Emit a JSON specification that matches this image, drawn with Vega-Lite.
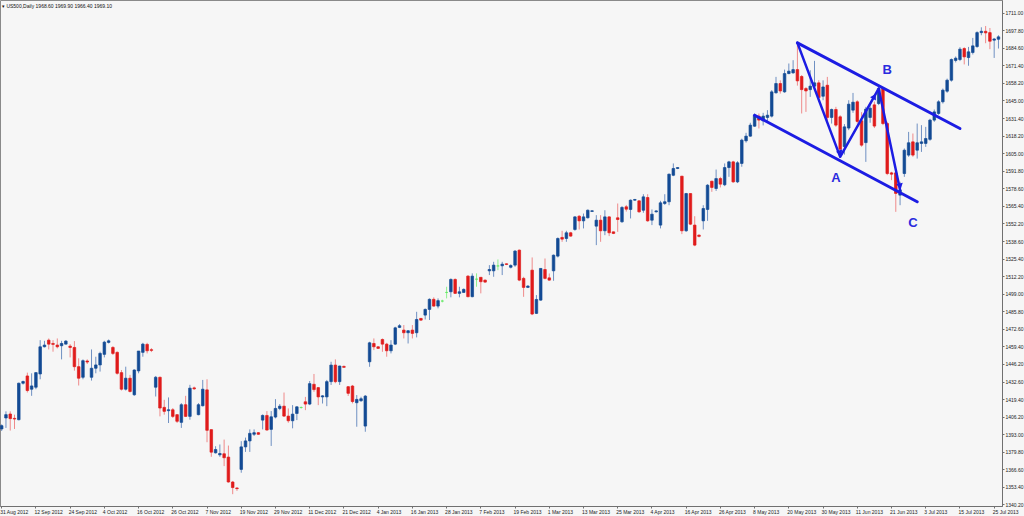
{
"$schema": "https://vega.github.io/schema/vega-lite/v6.json",
"width": 1002, "height": 506,
"autosize": "none",
"padding": {"left": 0, "top": 0, "right": 22, "bottom": 10},
"background": "#f6f6f6",
"title": {"text": "▾ US500,Daily  1968.60 1969.90 1966.40 1969.10", "anchor": "start", "frame": "group", "offset": -9, "dx": 2, "fontSize": 5, "fontWeight": "normal", "font": "Liberation Sans", "color": "#111111"},
"config": {
  "view": {"stroke": "#8a8a8a", "fill": "#f6f6f6"},
  "font": "Liberation Sans",
  "axis": {"labelFont": "Liberation Sans", "labelFontSize": 5, "domainColor": "#707070", "tickColor": "#707070", "labelColor": "#222222", "grid": false, "labelOverlap": false},
  "axisY": {"labelOverlap": false, "labelFlush": false, "labelBound": false, "tickCount": 40}
},
"datasets": {
"k": [
{"d":"2012-08-31","o":1397,"h":1400.5,"l":1395.5,"c":1399.5},
{"d":"2012-09-03","o":1405.3,"h":1410.3,"l":1397.8,"c":1407.8},
{"d":"2012-09-04","o":1408.3,"h":1410.3,"l":1395.8,"c":1404.8},
{"d":"2012-09-05","o":1405,"h":1407.8,"l":1397,"c":1404.5},
{"d":"2012-09-06","o":1404,"h":1432,"l":1403.5,"c":1431.5},
{"d":"2012-09-07","o":1431.5,"h":1433.5,"l":1430.5,"c":1432.8},
{"d":"2012-09-10","o":1437,"h":1439.5,"l":1424.5,"c":1426},
{"d":"2012-09-11","o":1427,"h":1439,"l":1422,"c":1429.5},
{"d":"2012-09-12","o":1428.5,"h":1440,"l":1427,"c":1439.5},
{"d":"2012-09-13","o":1438.5,"h":1464,"l":1434.5,"c":1459},
{"d":"2012-09-14","o":1459,"h":1463.5,"l":1458.5,"c":1460.3},
{"d":"2012-09-17","o":1464,"h":1465.3,"l":1457,"c":1461},
{"d":"2012-09-18","o":1461.5,"h":1464,"l":1455.3,"c":1460.8},
{"d":"2012-09-19","o":1460.3,"h":1465.3,"l":1457.8,"c":1459},
{"d":"2012-09-20","o":1459.8,"h":1463.5,"l":1449.5,"c":1461.5},
{"d":"2012-09-21","o":1461,"h":1464,"l":1460.8,"c":1463.3},
{"d":"2012-09-24","o":1459.5,"h":1461,"l":1451,"c":1458.5},
{"d":"2012-09-25","o":1458.5,"h":1463.3,"l":1441,"c":1444},
{"d":"2012-09-26","o":1444,"h":1450.3,"l":1429.8,"c":1435.3},
{"d":"2012-09-27","o":1436,"h":1449.5,"l":1434.5,"c":1448.5},
{"d":"2012-09-28","o":1448.3,"h":1449.5,"l":1446,"c":1447.5},
{"d":"2012-10-01","o":1436,"h":1457,"l":1433.5,"c":1442.8},
{"d":"2012-10-02","o":1442.8,"h":1451.5,"l":1439,"c":1445.3},
{"d":"2012-10-03","o":1445.3,"h":1455.3,"l":1440.3,"c":1454},
{"d":"2012-10-04","o":1453.3,"h":1463.5,"l":1451,"c":1462.5},
{"d":"2012-10-05","o":1462.3,"h":1464.5,"l":1461.5,"c":1463.5},
{"d":"2012-10-08","o":1458.5,"h":1459.5,"l":1452.8,"c":1454},
{"d":"2012-10-09","o":1454.8,"h":1455.5,"l":1438,"c":1439},
{"d":"2012-10-10","o":1439.5,"h":1441.5,"l":1426,"c":1427},
{"d":"2012-10-11","o":1427,"h":1444,"l":1426,"c":1435.3},
{"d":"2012-10-12","o":1435.3,"h":1437.8,"l":1424.5,"c":1425.3},
{"d":"2012-10-15","o":1422.8,"h":1442,"l":1422,"c":1441.5},
{"d":"2012-10-16","o":1440.8,"h":1455.8,"l":1439,"c":1455.8},
{"d":"2012-10-17","o":1454.8,"h":1462,"l":1451.5,"c":1461},
{"d":"2012-10-18","o":1460.8,"h":1462,"l":1454,"c":1456},
{"d":"2012-10-19","o":1456.8,"h":1458,"l":1455,"c":1456.3},
{"d":"2012-10-22","o":1428.5,"h":1437,"l":1421.5,"c":1436},
{"d":"2012-10-23","o":1436,"h":1436.5,"l":1406.5,"c":1412.8},
{"d":"2012-10-24","o":1413.3,"h":1419,"l":1407.8,"c":1410.3},
{"d":"2012-10-25","o":1410.8,"h":1420.8,"l":1401.5,"c":1411.5},
{"d":"2012-10-26","o":1411.5,"h":1412.8,"l":1405.3,"c":1406.5},
{"d":"2012-10-29","o":1407.8,"h":1408,"l":1401.5,"c":1402.8},
{"d":"2012-10-30","o":1402,"h":1416.5,"l":1397.8,"c":1415.3},
{"d":"2012-10-31","o":1415.3,"h":1422,"l":1406,"c":1406.5},
{"d":"2012-11-01","o":1406.5,"h":1430.3,"l":1404,"c":1427.8},
{"d":"2012-11-02","o":1428,"h":1429,"l":1426.5,"c":1427.3},
{"d":"2012-11-05","o":1407.8,"h":1416.5,"l":1407.3,"c":1415.3},
{"d":"2012-11-06","o":1414.5,"h":1434,"l":1414,"c":1427},
{"d":"2012-11-07","o":1426.5,"h":1434.5,"l":1387,"c":1396},
{"d":"2012-11-08","o":1396.5,"h":1396.8,"l":1376,"c":1379.5},
{"d":"2012-11-09","o":1379,"h":1384,"l":1378.5,"c":1381.5},
{"d":"2012-11-12","o":1377.5,"h":1385.3,"l":1376,"c":1378.5},
{"d":"2012-11-13","o":1378.3,"h":1389,"l":1369,"c":1375.3},
{"d":"2012-11-14","o":1375.8,"h":1384.5,"l":1356.5,"c":1357},
{"d":"2012-11-15","o":1357,"h":1357.8,"l":1347.8,"c":1352.8},
{"d":"2012-11-16","o":1352.5,"h":1353,"l":1350.3,"c":1352},
{"d":"2012-11-19","o":1366.5,"h":1387.8,"l":1364,"c":1383.5},
{"d":"2012-11-20","o":1383.5,"h":1390.5,"l":1379.7,"c":1388},
{"d":"2012-11-21","o":1388,"h":1396.7,"l":1379.7,"c":1393.7},
{"d":"2012-11-22","o":1393,"h":1396.7,"l":1391.7,"c":1394.2},
{"d":"2012-11-23","o":1394.2,"h":1394.7,"l":1392.5,"c":1393},
{"d":"2012-11-26","o":1403.7,"h":1408,"l":1396.7,"c":1407.2},
{"d":"2012-11-27","o":1407.2,"h":1410.5,"l":1395.8,"c":1396.2},
{"d":"2012-11-28","o":1396.7,"h":1410.5,"l":1384.2,"c":1406.2},
{"d":"2012-11-29","o":1406,"h":1419.5,"l":1405,"c":1412.5},
{"d":"2012-11-30","o":1412.5,"h":1415.8,"l":1411.2,"c":1414.2},
{"d":"2012-12-03","o":1414.2,"h":1424.5,"l":1406.2,"c":1406.7},
{"d":"2012-12-04","o":1406.7,"h":1412.5,"l":1401.7,"c":1403.2},
{"d":"2012-12-05","o":1403.2,"h":1415,"l":1397.5,"c":1408.2},
{"d":"2012-12-06","o":1408.7,"h":1414.2,"l":1403.7,"c":1413.7},
{"d":"2012-12-07","o":1413.2,"h":1414,"l":1412.3,"c":1413.2},
{"d":"2012-12-10","o":1417.5,"h":1421.2,"l":1411.2,"c":1415.8},
{"d":"2012-12-11","o":1415.8,"h":1433.2,"l":1415,"c":1431.2},
{"d":"2012-12-12","o":1430.7,"h":1438.5,"l":1425,"c":1426.7},
{"d":"2012-12-13","o":1428.2,"h":1428.7,"l":1415,"c":1421.2},
{"d":"2012-12-14","o":1421.2,"h":1422.5,"l":1416.2,"c":1422},
{"d":"2012-12-17","o":1421.2,"h":1434,"l":1414.2,"c":1432.7},
{"d":"2012-12-18","o":1432.7,"h":1447.7,"l":1430.2,"c":1445.2},
{"d":"2012-12-19","o":1445.2,"h":1449.5,"l":1431.5,"c":1432.7},
{"d":"2012-12-20","o":1432.7,"h":1444.7,"l":1430.2,"c":1444.5},
{"d":"2012-12-21","o":1444.2,"h":1444.9,"l":1443.4,"c":1443.5},
{"d":"2012-12-24","o":1428.9,"h":1429.4,"l":1421.9,"c":1423.9},
{"d":"2012-12-26","o":1429.4,"h":1430.2,"l":1416.3,"c":1417.7},
{"d":"2012-12-27","o":1416.8,"h":1422.6,"l":1398.7,"c":1419.3},
{"d":"2012-12-28","o":1418.3,"h":1421.3,"l":1417.5,"c":1419.8},
{"d":"2012-12-31","o":1399.2,"h":1422.6,"l":1394.9,"c":1421.8},
{"d":"2013-01-02","o":1447.7,"h":1462.8,"l":1443.9,"c":1462},
{"d":"2013-01-03","o":1461.5,"h":1465.3,"l":1456.5,"c":1459},
{"d":"2013-01-04","o":1459,"h":1459.5,"l":1457.3,"c":1457.8},
{"d":"2013-01-07","o":1464.5,"h":1465.3,"l":1455.2,"c":1461},
{"d":"2013-01-08","o":1461,"h":1462,"l":1451.5,"c":1456},
{"d":"2013-01-09","o":1456,"h":1464,"l":1454,"c":1460.3},
{"d":"2013-01-10","o":1461,"h":1474.1,"l":1460.3,"c":1473.3},
{"d":"2013-01-11","o":1473.6,"h":1476.1,"l":1473.1,"c":1474.9},
{"d":"2013-01-14","o":1471.6,"h":1475.4,"l":1465.3,"c":1469.6},
{"d":"2013-01-15","o":1469.6,"h":1471.6,"l":1461.5,"c":1471.1},
{"d":"2013-01-16","o":1471.6,"h":1475.4,"l":1465.3,"c":1469.1},
{"d":"2013-01-17","o":1469.6,"h":1485.4,"l":1466.1,"c":1479.6},
{"d":"2013-01-18","o":1480.4,"h":1480.6,"l":1478.6,"c":1479.1},
{"d":"2013-01-21","o":1482.9,"h":1487.9,"l":1479.6,"c":1487.2},
{"d":"2013-01-22","o":1487.2,"h":1495.5,"l":1479.2,"c":1494.8},
{"d":"2013-01-23","o":1494.8,"h":1496.3,"l":1489.2,"c":1489.7},
{"d":"2013-01-24","o":1489.7,"h":1495.5,"l":1488,"c":1493.8},
{"d":"2013-01-25","o":1493.5,"h":1494.5,"l":1492.5,"c":1493.5},
{"d":"2013-01-28","o":1500,"h":1504.3,"l":1495.5,"c":1500},
{"d":"2013-01-29","o":1500.5,"h":1510.6,"l":1496.3,"c":1509.8},
{"d":"2013-01-30","o":1509.8,"h":1510.6,"l":1498.8,"c":1499.3},
{"d":"2013-01-31","o":1499.3,"h":1504.3,"l":1496.3,"c":1500.5},
{"d":"2013-02-01","o":1500,"h":1503,"l":1499.8,"c":1502.3},
{"d":"2013-02-04","o":1512.3,"h":1513.1,"l":1496.3,"c":1496.8},
{"d":"2013-02-05","o":1496.8,"h":1514.4,"l":1496.3,"c":1512.3},
{"d":"2013-02-06","o":1510,"h":1514.4,"l":1504.3,"c":1510},
{"d":"2013-02-07","o":1511.4,"h":1511.6,"l":1499.3,"c":1508.1},
{"d":"2013-02-08","o":1509.3,"h":1509.8,"l":1507.3,"c":1507.8},
{"d":"2013-02-11","o":1516.3,"h":1520.6,"l":1513.1,"c":1517.3},
{"d":"2013-02-12","o":1516.3,"h":1523.1,"l":1511.8,"c":1520.6},
{"d":"2013-02-13","o":1520,"h":1524.9,"l":1516.8,"c":1520},
{"d":"2013-02-14","o":1520.1,"h":1523.1,"l":1513.1,"c":1521.3},
{"d":"2013-02-15","o":1521.6,"h":1521.9,"l":1520.6,"c":1521.1},
{"d":"2013-02-18","o":1519,"h":1521.3,"l":1518.1,"c":1520.3},
{"d":"2013-02-19","o":1520.6,"h":1531.9,"l":1519.3,"c":1531.2},
{"d":"2013-02-20","o":1531.9,"h":1532.4,"l":1508.5,"c":1509.3},
{"d":"2013-02-21","o":1510.6,"h":1511.8,"l":1496.7,"c":1503.8},
{"d":"2013-02-22","o":1503.8,"h":1505.5,"l":1503.3,"c":1504.8},
{"d":"2013-02-25","o":1516.8,"h":1526.4,"l":1482.9,"c":1483.7},
{"d":"2013-02-26","o":1484.2,"h":1498,"l":1483.7,"c":1494.7},
{"d":"2013-02-27","o":1494.2,"h":1518.3,"l":1493.7,"c":1518.1},
{"d":"2013-02-28","o":1517.3,"h":1525.6,"l":1509.8,"c":1510.6},
{"d":"2013-03-01","o":1511,"h":1514.3,"l":1508.8,"c":1509.3},
{"d":"2013-03-04","o":1516.3,"h":1528.6,"l":1508.8,"c":1528.1},
{"d":"2013-03-05","o":1527.4,"h":1541.5,"l":1526.4,"c":1540.7},
{"d":"2013-03-06","o":1541.5,"h":1546.5,"l":1538.2,"c":1540.2},
{"d":"2013-03-07","o":1540.7,"h":1546.5,"l":1538.2,"c":1545},
{"d":"2013-03-08","o":1545,"h":1545.7,"l":1542,"c":1542.5},
{"d":"2013-03-11","o":1547.5,"h":1557.5,"l":1546.5,"c":1557},
{"d":"2013-03-12","o":1557.5,"h":1558.3,"l":1547.5,"c":1554},
{"d":"2013-03-13","o":1554,"h":1559.5,"l":1548.3,"c":1557},
{"d":"2013-03-14","o":1556.3,"h":1562.6,"l":1555.8,"c":1562},
{"d":"2013-03-15","o":1561.1,"h":1562,"l":1560.8,"c":1561.6},
{"d":"2013-03-18","o":1550,"h":1558.3,"l":1535.7,"c":1554.5},
{"d":"2013-03-19","o":1554.5,"h":1558.3,"l":1538.2,"c":1546.5},
{"d":"2013-03-20","o":1546.5,"h":1562,"l":1543.2,"c":1557},
{"d":"2013-03-21","o":1557,"h":1557.5,"l":1542.5,"c":1545},
{"d":"2013-03-22","o":1545.7,"h":1546,"l":1544,"c":1544.5},
{"d":"2013-03-25","o":1556.3,"h":1567.1,"l":1545.7,"c":1555},
{"d":"2013-03-26","o":1553.3,"h":1565.1,"l":1552.5,"c":1564.1},
{"d":"2013-03-27","o":1564.6,"h":1566,"l":1561,"c":1562.8},
{"d":"2013-03-28","o":1562.6,"h":1570.1,"l":1555.8,"c":1569.6},
{"d":"2013-03-29","o":1569.6,"h":1570.6,"l":1569.1,"c":1570.1},
{"d":"2013-04-01","o":1569.1,"h":1569.6,"l":1560.1,"c":1560.8},
{"d":"2013-04-02","o":1562,"h":1574.1,"l":1560.1,"c":1572.1},
{"d":"2013-04-03","o":1571.6,"h":1574.1,"l":1553.3,"c":1554},
{"d":"2013-04-04","o":1554.5,"h":1562.6,"l":1550.8,"c":1559},
{"d":"2013-04-05","o":1560.8,"h":1562,"l":1560.3,"c":1561.5},
{"d":"2013-04-08","o":1550.8,"h":1569.1,"l":1548.3,"c":1567.6},
{"d":"2013-04-09","o":1567.1,"h":1574.1,"l":1566,"c":1568.4},
{"d":"2013-04-10","o":1568.4,"h":1589.7,"l":1565.8,"c":1589.2},
{"d":"2013-04-11","o":1588.4,"h":1597.3,"l":1587.7,"c":1593.5},
{"d":"2013-04-12","o":1593.5,"h":1594.5,"l":1593,"c":1594.2},
{"d":"2013-04-15","o":1587.7,"h":1587.9,"l":1544,"c":1546.5},
{"d":"2013-04-16","o":1546.5,"h":1575.1,"l":1545.7,"c":1574.6},
{"d":"2013-04-17","o":1574.6,"h":1574.8,"l":1550.8,"c":1551.5},
{"d":"2013-04-18","o":1550.8,"h":1557.5,"l":1534.9,"c":1535.7},
{"d":"2013-04-19","o":1543.2,"h":1543.8,"l":1541.5,"c":1542.3},
{"d":"2013-04-22","o":1554,"h":1565.8,"l":1547.5,"c":1563.3},
{"d":"2013-04-23","o":1562.6,"h":1581.7,"l":1554,"c":1580.9},
{"d":"2013-04-24","o":1583.9,"h":1584.2,"l":1575.9,"c":1579.2},
{"d":"2013-04-25","o":1578.4,"h":1592.7,"l":1576.6,"c":1585.9},
{"d":"2013-04-26","o":1585.9,"h":1587.2,"l":1579.2,"c":1581.7},
{"d":"2013-04-29","o":1581.2,"h":1597.3,"l":1580.2,"c":1594.2},
{"d":"2013-04-30","o":1594.2,"h":1599.3,"l":1587.2,"c":1598.5},
{"d":"2013-05-01","o":1598.5,"h":1599.3,"l":1582.7,"c":1583.4},
{"d":"2013-05-02","o":1583.4,"h":1599,"l":1582.5,"c":1597.8},
{"d":"2013-05-03","o":1597.3,"h":1616,"l":1594.8,"c":1614.9},
{"d":"2013-05-06","o":1614.4,"h":1620.4,"l":1613,"c":1617.9},
{"d":"2013-05-07","o":1617.9,"h":1628,"l":1617.4,"c":1626.2},
{"d":"2013-05-08","o":1625.4,"h":1635,"l":1624.9,"c":1633.7},
{"d":"2013-05-09","o":1633,"h":1635,"l":1623.7,"c":1630},
{"d":"2013-05-10","o":1629.5,"h":1635.5,"l":1626,"c":1633},
{"d":"2013-05-13","o":1632,"h":1637.5,"l":1628,"c":1633.7},
{"d":"2013-05-14","o":1633,"h":1652.6,"l":1632,"c":1651.3},
{"d":"2013-05-15","o":1650.6,"h":1662.6,"l":1650,"c":1657.6},
{"d":"2013-05-16","o":1657.6,"h":1660,"l":1650,"c":1652},
{"d":"2013-05-17","o":1651.3,"h":1668.1,"l":1650.6,"c":1665.1},
{"d":"2013-05-20","o":1665.1,"h":1672.7,"l":1664.6,"c":1666.9},
{"d":"2013-05-21","o":1665.6,"h":1675.2,"l":1665.1,"c":1668.1},
{"d":"2013-05-22","o":1668.1,"h":1686.5,"l":1656,"c":1659.6},
{"d":"2013-05-23","o":1662.9,"h":1664,"l":1635,"c":1653},
{"d":"2013-05-24","o":1653.8,"h":1655,"l":1636.2,"c":1652},
{"d":"2013-05-27","o":1653,"h":1667.6,"l":1647.5,"c":1655.6},
{"d":"2013-05-28","o":1655.6,"h":1674.7,"l":1652.6,"c":1658.1},
{"d":"2013-05-29","o":1658.1,"h":1660.1,"l":1643.8,"c":1647},
{"d":"2013-05-30","o":1648,"h":1660,"l":1645,"c":1655},
{"d":"2013-05-31","o":1656.3,"h":1662.6,"l":1629.5,"c":1632},
{"d":"2013-06-03","o":1632,"h":1638.7,"l":1627.4,"c":1638},
{"d":"2013-06-04","o":1638,"h":1640,"l":1624.9,"c":1626.2},
{"d":"2013-06-05","o":1632.5,"h":1633.7,"l":1602.3,"c":1608},
{"d":"2013-06-06","o":1610,"h":1627,"l":1604,"c":1624.9},
{"d":"2013-06-07","o":1624,"h":1645,"l":1622.4,"c":1642},
{"d":"2013-06-10","o":1637.5,"h":1650.5,"l":1635.5,"c":1643.5},
{"d":"2013-06-11","o":1643.8,"h":1645,"l":1627.4,"c":1629},
{"d":"2013-06-12","o":1629.5,"h":1636,"l":1609.9,"c":1611.1},
{"d":"2013-06-13","o":1613,"h":1640,"l":1598.5,"c":1638.3},
{"d":"2013-06-14","o":1632,"h":1642,"l":1628,"c":1639},
{"d":"2013-06-17","o":1641.5,"h":1644,"l":1624,"c":1625.5},
{"d":"2013-06-18","o":1642.5,"h":1655,"l":1641.3,"c":1653.8},
{"d":"2013-06-19","o":1653.8,"h":1655,"l":1626.2,"c":1627.4},
{"d":"2013-06-20","o":1627.4,"h":1628.7,"l":1588.5,"c":1589.7},
{"d":"2013-06-21","o":1590.2,"h":1591,"l":1584.7,"c":1589.2},
{"d":"2013-06-24","o":1590.2,"h":1592.2,"l":1560.8,"c":1574.7},
{"d":"2013-06-25","o":1573.4,"h":1583.5,"l":1565.8,"c":1577.2},
{"d":"2013-06-26","o":1589.7,"h":1608.6,"l":1587.2,"c":1607.3},
{"d":"2013-06-27","o":1603.6,"h":1621.1,"l":1602.3,"c":1612.9},
{"d":"2013-06-28","o":1613.6,"h":1619.9,"l":1602.3,"c":1603.6},
{"d":"2013-07-01","o":1607.3,"h":1627.4,"l":1601,"c":1612.9},
{"d":"2013-07-02","o":1612.4,"h":1626.2,"l":1606,"c":1613.6},
{"d":"2013-07-03","o":1612.4,"h":1624.9,"l":1609.8,"c":1616.1},
{"d":"2013-07-04","o":1615.5,"h":1631,"l":1614.4,"c":1630},
{"d":"2013-07-05","o":1630,"h":1638,"l":1628.7,"c":1636.2},
{"d":"2013-07-08","o":1635,"h":1645,"l":1634,"c":1643.8},
{"d":"2013-07-09","o":1643.8,"h":1653.8,"l":1642.5,"c":1652.6},
{"d":"2013-07-10","o":1651.8,"h":1661.3,"l":1650.6,"c":1660.1},
{"d":"2013-07-11","o":1660.1,"h":1676.5,"l":1659,"c":1675.7},
{"d":"2013-07-12","o":1675,"h":1678,"l":1673.5,"c":1676.7},
{"d":"2013-07-15","o":1675.7,"h":1685,"l":1674.5,"c":1683.5},
{"d":"2013-07-16","o":1684,"h":1685,"l":1672,"c":1677.7},
{"d":"2013-07-17","o":1677.2,"h":1685.2,"l":1671,"c":1681.5},
{"d":"2013-07-18","o":1681,"h":1692,"l":1679.5,"c":1686},
{"d":"2013-07-19","o":1685.5,"h":1697,"l":1684.5,"c":1696},
{"d":"2013-07-22","o":1696,"h":1700,"l":1694,"c":1697},
{"d":"2013-07-23","o":1697,"h":1701,"l":1688,"c":1695.8},
{"d":"2013-07-24","o":1696,"h":1699.5,"l":1683.5,"c":1689.5},
{"d":"2013-07-25","o":1690.3,"h":1692,"l":1676.9,"c":1691.2},
{"d":"2013-07-26","o":1691,"h":1694,"l":1684,"c":1692.8}
],
"up": [{"d":"2013-05-22","p":1688.3},{"d":"2013-07-15","p":1623.7}],
"lo": [{"d":"2013-05-08","p":1633.7},{"d":"2013-07-01","p":1568.4}],
"zig": [{"d":"2013-05-22","p":1688.3},{"d":"2013-06-05","p":1602.3},{"d":"2013-06-18","p":1653.8},{"d":"2013-06-25","p":1577.2}],
"lab": [{"d":"2013-06-04","p":1586.5,"t":"A"},{"d":"2013-06-20","p":1667.6,"t":"B"},{"d":"2013-06-28","p":1552.5,"t":"C"}]
},
"encoding": {
  "x": {"field": "d", "type": "ordinal", "title": null,
    "scale": {"paddingInner": 0.4, "paddingOuter": 0.31, "align": 0.15},
    "axis": {"values": ["2012-08-31","2012-09-12","2012-09-24","2012-10-04","2012-10-16","2012-10-26","2012-11-07","2012-11-19","2012-11-29","2012-12-11","2012-12-21","2013-01-04","2013-01-16","2013-01-28","2013-02-07","2013-02-19","2013-03-01","2013-03-13","2013-03-25","2013-04-04","2013-04-16","2013-04-26","2013-05-08","2013-05-20","2013-05-30","2013-06-11","2013-06-21","2013-07-03","2013-07-15","2013-07-25"],
      "labelExpr": "utcFormat(toDate(datum.value), '%-d %b %Y')",
      "labelAlign": "left", "labelOffset": -1.5, "labelAngle": 0, "tickSize": 2, "labelPadding": 1, "labelOverlap": false, "labelBaseline": "top"}}
},
"layer": [
  {"data": {"name": "k"},
   "mark": {"type": "rule", "strokeWidth": 1},
   "encoding": {
     "y": {"field": "l", "type": "quantitative", "title": null,
       "scale": {"domain": [1338.9, 1720.6], "nice": false, "zero": false},
       "axis": {"orient": "right", "values": [1711, 1697.8, 1684.6, 1671.4, 1658.2, 1645, 1631.4, 1618.2, 1605, 1591.8, 1578.6, 1565.4, 1552.2, 1538.6, 1525.4, 1512.2, 1499, 1485.8, 1472.6, 1459.4, 1446.2, 1432.6, 1419.4, 1406.2, 1393, 1379.8, 1366.6, 1353.4, 1340.2], "tickCount": 40, "format": ".2f", "tickSize": 2, "labelPadding": 1, "labelOverlap": false, "labelFlush": false, "labelBound": false}},
     "y2": {"field": "h"},
     "color": {"condition": [{"test": "datum.c > datum.o", "value": "#6f90c2"}, {"test": "datum.c < datum.o", "value": "#ef8a8a"}], "value": "#8ef08e"}
   }},
  {"data": {"name": "k"},
   "mark": {"type": "bar", "strokeWidth": 0.7},
   "encoding": {
     "y": {"field": "o", "type": "quantitative", "title": null, "scale": {"domain": [1338.9, 1720.6], "nice": false, "zero": false}},
     "y2": {"field": "c"},
     "fill": {"condition": [{"test": "datum.c > datum.o", "value": "#134a94"}, {"test": "datum.c < datum.o", "value": "#e01b1b"}], "value": "#5ee85e"},
     "stroke": {"condition": [{"test": "datum.c > datum.o", "value": "#134a94"}, {"test": "datum.c < datum.o", "value": "#e01b1b"}], "value": "#5ee85e"}
   }},
  {"data": {"name": "up"},
   "mark": {"type": "line", "color": "#1c1ce3", "strokeWidth": 3, "strokeCap": "round"},
   "encoding": {"y": {"field": "p", "type": "quantitative", "title": null}}},
  {"data": {"name": "lo"},
   "mark": {"type": "line", "color": "#1c1ce3", "strokeWidth": 3, "strokeCap": "round"},
   "encoding": {"y": {"field": "p", "type": "quantitative", "title": null}}},
  {"data": {"name": "zig"},
   "mark": {"type": "line", "color": "#1c1ce3", "strokeWidth": 2.5, "strokeCap": "round", "strokeJoin": "round"},
   "encoding": {"y": {"field": "p", "type": "quantitative", "title": null}}},
  {"data": {"values": [{"d": "2013-06-05", "p": 1605}]},
   "mark": {"type": "point", "shape": "triangle-up", "filled": true, "size": 45, "angle": 158, "color": "#1c1ce3", "opacity": 1},
   "encoding": {"y": {"field": "p", "type": "quantitative", "title": null}}},
  {"data": {"values": [{"d": "2013-06-17", "p": 1648}]},
   "mark": {"type": "point", "shape": "triangle-up", "filled": true, "size": 45, "angle": 29, "color": "#1c1ce3", "opacity": 1},
   "encoding": {"y": {"field": "p", "type": "quantitative", "title": null}}},
  {"data": {"values": [{"d": "2013-06-25", "p": 1580}]},
   "mark": {"type": "point", "shape": "triangle-up", "filled": true, "size": 45, "angle": 168, "color": "#1c1ce3", "opacity": 1},
   "encoding": {"y": {"field": "p", "type": "quantitative", "title": null}}},
  {"data": {"name": "lab"},
   "mark": {"type": "text", "color": "#2a2ade", "fontSize": 13, "fontWeight": "bold", "font": "Liberation Sans", "align": "center", "baseline": "middle"},
   "encoding": {"y": {"field": "p", "type": "quantitative", "title": null}, "text": {"field": "t"}}}
]
}
